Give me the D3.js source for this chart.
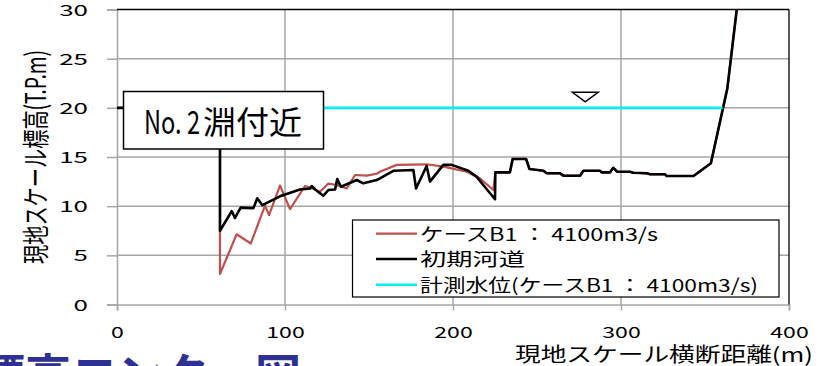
<!DOCTYPE html>
<html>
<head>
<meta charset="utf-8">
<script src="https://cdn.jsdelivr.net/npm/d3@7"></script>
<style>
  html, body { margin: 0; padding: 0; background: #fff; }
  svg { display: block; font-family: "Noto Sans CJK JP", "Noto Sans", sans-serif; }
</style>
</head>
<body>
<svg id="chart" width="820" height="366"></svg>
<script>
// 横断距離 (m) と標高 (T.P.m)
const xTicks = [0, 100, 200, 300, 400];
const yTicks = [0, 5, 10, 15, 20, 25, 30];

// ケースB1 : 4100m3/s 通水後の河床
const caseX = [0, 61.3, 61.3, 71.2, 79.6, 88.1, 90.5, 97, 103, 111.9, 114.9, 120.8, 125.8, 130.8, 136.7, 141.7, 148.6, 154.6, 156.5, 166.5, 184.3, 195, 208.2, 216, 224, 225.2,
  233.9, 235.5, 243.5, 245.5, 253.8, 255.8, 263.7, 265.7, 275.6, 277.6, 287.5, 288.5, 293.5, 295.4, 297.8, 305.4, 307.3, 315.3, 317.3, 326.2, 327.2, 343.2, 353.5, 363.3, 368.9];
const caseY = [20, 20, 3.1, 7.14, 6.2, 10.05, 9.1, 12.1, 9.7, 12.05, 11.9, 11.47, 12.3, 12.15, 11.8, 13.17, 13.1, 13.3, 13.5, 14.2, 14.26, 14.0, 13.5, 12.83, 11.64, 13.44,
  13.44, 14.8, 14.8, 13.78, 13.6, 13.34, 13.34, 13.1, 13.1, 13.6, 13.6, 13.44, 13.44, 13.9, 13.5, 13.5, 13.4, 13.34, 13.24, 13.24, 13.07, 13.07, 14.36, 21.98, 30];

// 初期河道
const initX = [0, 61.3, 61.3, 68.3, 70.2, 73.6, 81.2, 83.5, 86.5, 97, 108.9, 114.9, 115.9, 118, 122.8, 125.8, 129.8, 131.1, 133.3, 142.7, 146.6, 154.6, 156.5, 164.5, 176.4, 178, 184.3, 186.3, 194.2, 199.2, 209.1, 214, 218, 225, 225.2,
  233.9, 235.5, 243.5, 245.5, 253.8, 255.8, 263.7, 265.7, 275.6, 277.6, 287.5, 288.5, 293.5, 295.4, 297.8, 305.4, 307.3, 315.3, 317.3, 326.2, 327.2, 343.2, 353.5, 363.3, 368.9];
const initY = [20, 20, 7.5, 9.5, 8.8, 9.85, 9.8, 10.8, 10.1, 11.0, 11.7, 11.8, 12.05, 11.7, 11.06, 11.64, 11.7, 12.76, 11.98, 12.66, 12.32, 12.66, 12.83, 13.6, 13.68, 11.8, 14.08, 12.5, 14.2, 14.2, 13.6, 13.0, 12.15, 10.7, 13.44,
  13.44, 14.8, 14.8, 13.78, 13.6, 13.34, 13.34, 13.1, 13.1, 13.6, 13.6, 13.44, 13.44, 13.9, 13.5, 13.5, 13.4, 13.34, 13.24, 13.24, 13.07, 13.07, 14.36, 21.98, 30];

// 計測水位
const levelX = [61.3, 360.5];
const levelY = [20, 20];

// 水位記号 ▽
const markerX = [271.1, 286.4, 278.7];
const markerY = [21.58, 21.58, 20.62];

const seriesNames = ["ケースB1 ： 4100m3/s", "初期河道", "計測水位(ケースB1 ： 4100m3/s)"];
const seriesColors = ["#c0504d", "#000000", "#00f0f0"];
const seriesWidths = [2.2, 2.6, 2.6];

const svg = d3.select("#chart");
const x = d3.scaleLinear().domain([0, 400]).range([117, 789]);
const y = d3.scaleLinear().domain([0, 30]).range([304.5, 9.5]);
const grid = "#a6a6a6";

// 背景の見出し（下端で切れている）
svg.append("text")
  .attr("x", -21).attr("y", 392)
  .attr("font-size", 46).attr("font-weight", 700)
  .attr("fill", "#2e3192")
  .text("標高コンター図");

// 目盛線
svg.append("g").selectAll("line").data(yTicks.filter(v => v > 0 && v < 30)).join("line")
  .attr("x1", x(0)).attr("x2", x(400))
  .attr("y1", d => y(d)).attr("y2", d => y(d))
  .attr("stroke", grid).attr("stroke-width", 1.5);
svg.append("g").selectAll("line").data(xTicks.filter(v => v > 0 && v < 400)).join("line")
  .attr("x1", d => x(d)).attr("x2", d => x(d))
  .attr("y1", y(0)).attr("y2", y(30))
  .attr("stroke", grid).attr("stroke-width", 1.5);

// 軸
const yAxis = svg.append("g").attr("transform", `translate(${x(0)},0)`)
  .call(d3.axisLeft(y).tickValues(yTicks).tickSize(10).tickPadding(19));
const xAxis = svg.append("g").attr("transform", `translate(0,${y(0)})`)
  .call(d3.axisBottom(x).tickValues(xTicks).tickSize(6).tickPadding(16));
[yAxis, xAxis].forEach(g => {
  g.select(".domain").attr("stroke", grid).attr("stroke-width", 1.5);
  g.selectAll(".tick line").attr("stroke", grid).attr("stroke-width", 1.5);
  g.selectAll(".tick text").attr("font-size", 15.5).attr("fill", "#000")
    .attr("font-family", "'Noto Sans CJK JP', sans-serif")
    .attr("lengthAdjust", "spacingAndGlyphs");
});
yAxis.selectAll(".tick text").attr("dy", "0.36em")
  .attr("textLength", d => String(d).length * 14.4);
xAxis.selectAll(".tick text").attr("dy", "0.71em")
  .attr("textLength", d => String(d).length * 12.8);

// 枠（上・右）
svg.append("line").attr("x1", x(0)).attr("x2", x(400)).attr("y1", y(30)).attr("y2", y(30))
  .attr("stroke", "#000").attr("stroke-width", 1.3);
svg.append("line").attr("x1", x(400)).attr("x2", x(400)).attr("y1", y(30)).attr("y2", y(0))
  .attr("stroke", "#000").attr("stroke-width", 1.3);

// 描画領域のクリップ
svg.append("clipPath").attr("id", "plot")
  .append("rect").attr("x", x(0)).attr("y", y(30))
  .attr("width", x(400) - x(0)).attr("height", y(0) - y(30));

const line = d3.line().x(d => x(d[0])).y(d => y(d[1]));
const series = [
  d3.zip(caseX, caseY),
  d3.zip(initX, initY),
  d3.zip(levelX, levelY)
];
const plot = svg.append("g").attr("clip-path", "url(#plot)");
series.forEach((pts, i) => {
  plot.append("path").datum(pts)
    .attr("d", line)
    .attr("fill", "none")
    .attr("stroke", seriesColors[i])
    .attr("stroke-width", seriesWidths[i])
    .attr("stroke-linejoin", "round")
    .attr("stroke-linecap", i === 0 ? "round" : "butt");
});
plot.append("path")
  .attr("stroke-linecap", "butt")
  .attr("d", line(d3.zip(markerX, markerY)) + "Z")
  .attr("fill", "#fff").attr("stroke", "#000").attr("stroke-width", 1.5);

// 注記「No. 2淵付近」
svg.append("rect")
  .attr("x", 123.5).attr("y", 91.5).attr("width", 200).attr("height", 57.5)
  .attr("fill", "#fff").attr("stroke", "#000").attr("stroke-width", 1.5);
svg.append("text").attr("x", 144).attr("y", 134).attr("font-size", 32)
  .attr("textLength", 56).attr("lengthAdjust", "spacingAndGlyphs")
  .text("No. 2");
svg.append("text").attr("x", 203).attr("y", 134).attr("font-size", 32)
  .attr("textLength", 99).attr("lengthAdjust", "spacingAndGlyphs")
  .text("淵付近");

// 凡例
const legend = svg.append("g");
legend.append("rect")
  .attr("x", 352.5).attr("y", 220).attr("width", 426.5).attr("height", 77)
  .attr("fill", "#fff").attr("stroke", "#000").attr("stroke-width", 1.2);
const rowY = [233.7, 259, 284.7];
const rowLen = [238, 105, 338];
seriesNames.forEach((name, i) => {
  legend.append("line")
    .attr("x1", 376).attr("x2", 417).attr("y1", rowY[i]).attr("y2", rowY[i])
    .attr("stroke", seriesColors[i]).attr("stroke-width", seriesWidths[i]);
  legend.append("text")
    .attr("x", 420).attr("y", rowY[i] + 6.9)
    .attr("font-size", 18)
    .attr("textLength", rowLen[i]).attr("lengthAdjust", "spacingAndGlyphs")
    .text(name);
});

// 軸タイトル
svg.append("text")
  .attr("x", 515).attr("y", 361.5)
  .attr("font-size", 20)
  .attr("textLength", 298).attr("lengthAdjust", "spacingAndGlyphs")
  .text("現地スケール横断距離(m)");
svg.append("text")
  .attr("transform", "translate(46,157) rotate(-90) scale(1,1.39)")
  .attr("text-anchor", "middle")
  .attr("font-size", 20)
  .attr("textLength", 214).attr("lengthAdjust", "spacingAndGlyphs")
  .text("現地スケール標高(T.P.m)");
</script>
</body>
</html>
